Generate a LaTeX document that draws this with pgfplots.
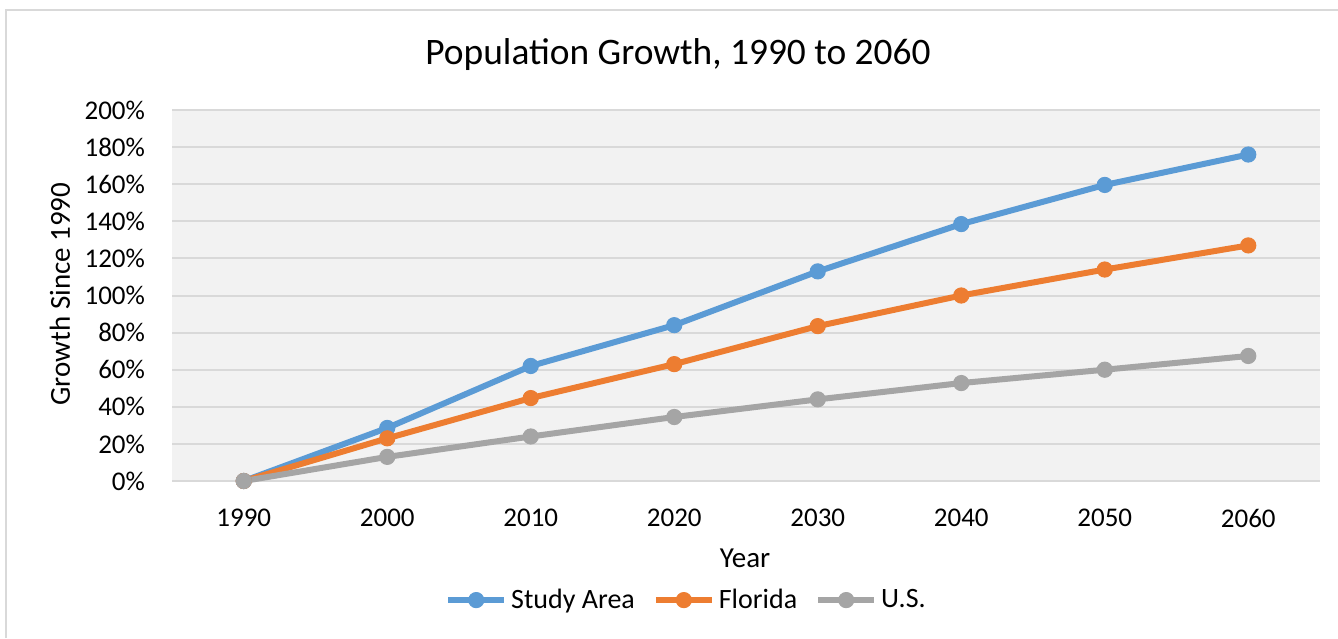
\documentclass[border=0pt]{standalone}
\usepackage{fontspec}
\setmainfont{Carlito}
\usepackage{pgfplots}
\pgfplotsset{compat=1.18}

\definecolor{cBlue}{HTML}{5B9BD5}
\definecolor{cOrange}{HTML}{ED7D31}
\definecolor{cGray}{HTML}{A5A5A5}
\definecolor{plotBg}{HTML}{F2F2F2}
\definecolor{gridC}{HTML}{D9D9D9}

\begin{document}
\begin{tikzpicture}
% 1 px of the reference = 0.5pt
\useasboundingbox (0,0) rectangle (669pt,319pt);
\draw[gridC, line width=1pt] (3pt,0) -- (3pt,314pt) -- (669pt,314pt);
\node[font=\fontsize{18.7}{20}\selectfont] at (339pt,291.5pt) {Population Growth, 1990 to 2060};
\node[font=\fontsize{14.5}{16}\selectfont, rotate=90] at (30pt,172pt) {Growth Since 1990};
\node[font=\fontsize{14.5}{16}\selectfont] at (372.5pt,40pt) {Year};

\begin{axis}[
  at={(86pt,78.5pt)}, anchor=south west,
  scale only axis,
  width=574pt, height=185.5pt,
  xmin=1985, xmax=2065,
  ymin=0, ymax=200,
  xtick={1990,2000,...,2060},
  ytick={0,20,...,200},
  xticklabel style={/pgf/number format/1000 sep={}, yshift=-10.5pt},
  yticklabel={\pgfmathprintnumber{\tick}\%},
  yticklabel style={xshift=-10pt},
  /pgf/number format/assume math mode=true,
  tick label style={font=\fontsize{13.5}{15}\selectfont},
  major tick length=0pt,
  axis line style={draw=none},
  ymajorgrids, grid style={gridC, line width=1pt},
  axis background/.style={fill=plotBg},
  clip=false,
  legend columns=3,
  legend style={at={(0.449,-0.321)}, anchor=center, draw=none, fill=none,
    font=\fontsize{14}{16}\selectfont,
    /tikz/every even column/.append style={column sep=7pt},
    inner sep=0pt},
  legend image code/.code={
    \draw[#1, mark=none] (0pt,0pt) -- (28pt,0pt);
    \draw[#1, only marks, mark size=3.2pt] plot coordinates {(14pt,0pt)};
  },
  every axis plot/.append style={line width=3pt, mark=*, line join=round},
]
\addplot[cBlue, mark options={fill=cBlue, draw=cBlue, line width=0.5pt, mark size=3.8pt}] coordinates {
  (1990,0) (2000,28.6) (2010,62) (2020,84) (2030,113) (2040,138.5) (2050,159.6) (2060,176)
};
\addlegendentry{Study Area}
\addplot[cOrange, mark options={fill=cOrange, draw=cOrange, line width=0.5pt, mark size=3.8pt}] coordinates {
  (1990,0) (2000,23) (2010,44.7) (2020,63) (2030,83.5) (2040,100) (2050,114) (2060,127)
};
\addlegendentry{Florida}
\addplot[cGray, mark options={fill=cGray, draw=cGray, line width=0.5pt, mark size=3.8pt}] coordinates {
  (1990,0) (2000,13) (2010,24) (2020,34.5) (2030,44) (2040,52.8) (2050,60) (2060,67.4)
};
\addlegendentry{U.S.}
\end{axis}
\end{tikzpicture}
\end{document}
